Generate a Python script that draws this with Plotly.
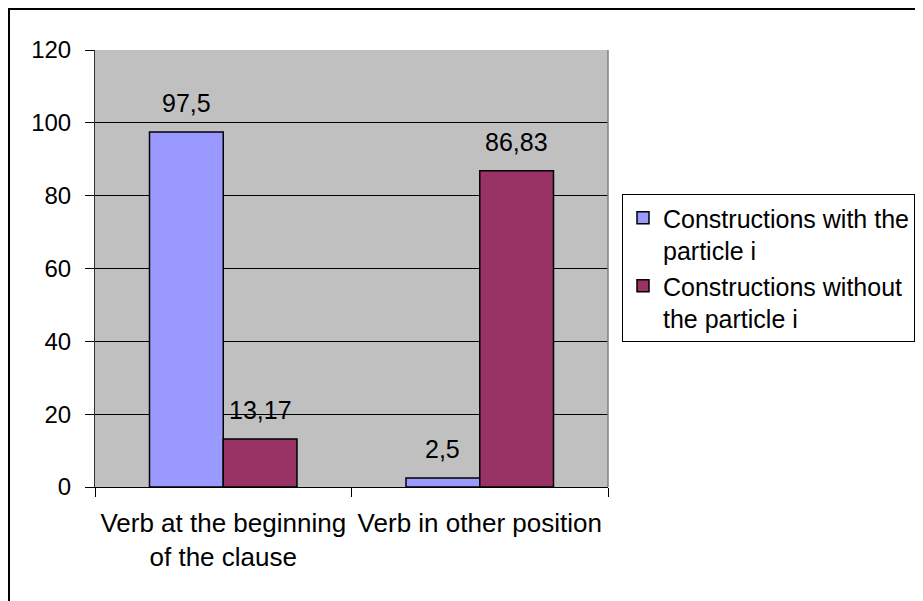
import plotly.graph_objects as go

categories = ["Verb at the beginning<br>of the clause", "Verb in other position"]
series_names = ["Constructions with the<br>particle i", "Constructions without<br>the particle i"]
with_particle = [97.5, 2.5]
without_particle = [13.17, 86.83]
value_labels_with = ["97,5", "2,5"]
value_labels_without = ["13,17", "86,83"]
y_ticks = [0, 20, 40, 60, 80, 100, 120]

colors = ["#9999FF", "#993366"]
FONT = "Liberation Sans, Arial, sans-serif"
BARGAP = 0.425

fig = go.Figure()
for i, (name, vals, col) in enumerate(zip(series_names, [with_particle, without_particle], colors)):
    fig.add_trace(go.Bar(
        x=categories, y=vals, name=name, legendgroup=f"g{i}",
        marker=dict(color=col, line=dict(color="black", width=1.5)),
    ))

# data labels above bars
half = (1 - BARGAP) / 4
for si, (vals, labels) in enumerate([(with_particle, value_labels_with),
                                     (without_particle, value_labels_without)]):
    for ci, (v, lab) in enumerate(zip(vals, labels)):
        fig.add_annotation(
            x=ci + (-half if si == 0 else half), y=v, xref="x", yref="y",
            text=lab, showarrow=False, yanchor="middle", yshift=29,
            font=dict(family=FONT, size=25, color="black"),
        )

# page body margin offsets the figure by 8px; positions below are figure pixels
W, H = 923, 601
L, R, T, B = 87, 323, 42, 122
pw, ph = W - L - R, H - T - B

def px_x(v):
    return (v - L) / pw

def px_y(v):
    return (H - B - v) / ph

fig.update_layout(
    width=W, height=H,
    margin=dict(l=L, r=R, t=T, b=B, autoexpand=False),
    paper_bgcolor="white", plot_bgcolor="#C0C0C0",
    barmode="group", bargap=BARGAP, bargroupgap=0,
    font=dict(family=FONT, color="black"),
    showlegend=True,
    legend=dict(
        x=px_x(614), y=px_y(186), xanchor="left", yanchor="top",
        bordercolor="black", borderwidth=1, bgcolor="white",
        font=dict(family=FONT, size=25, color="black"),
        valign="top", traceorder="normal", tracegroupgap=6,
    ),
    xaxis=dict(
        type="category", tickson="boundaries", ticks="outside", ticklen=9,
        tickcolor="black", tickwidth=1, showline=True, linecolor="black", linewidth=1,
        showgrid=False, tickfont=dict(family=FONT, size=26, color="black"),
        ticklabelstandoff=13,
    ),
    yaxis=dict(
        range=[0, 120], tickvals=y_ticks, ticks="outside", ticklen=9,
        tickcolor="black", tickwidth=1, showline=True, linecolor="#303030", linewidth=1,
        showgrid=True, gridcolor="black", gridwidth=1, zeroline=False,
        tickfont=dict(family=FONT, size=24, color="black"),
        ticklabelstandoff=9,
    ),
    shapes=[
        dict(type="line", xref="paper", yref="paper", x0=1, x1=1, y0=0, y1=1,
             line=dict(color="#808080", width=1.5)),
        dict(type="rect", xref="paper", yref="paper",
             x0=px_x(1), y0=px_y(H - 1), x1=px_x(W - 1), y1=px_y(1),
             line=dict(color="black", width=2), fillcolor="rgba(0,0,0,0)"),
    ],
)

fig.write_html("out.html")
